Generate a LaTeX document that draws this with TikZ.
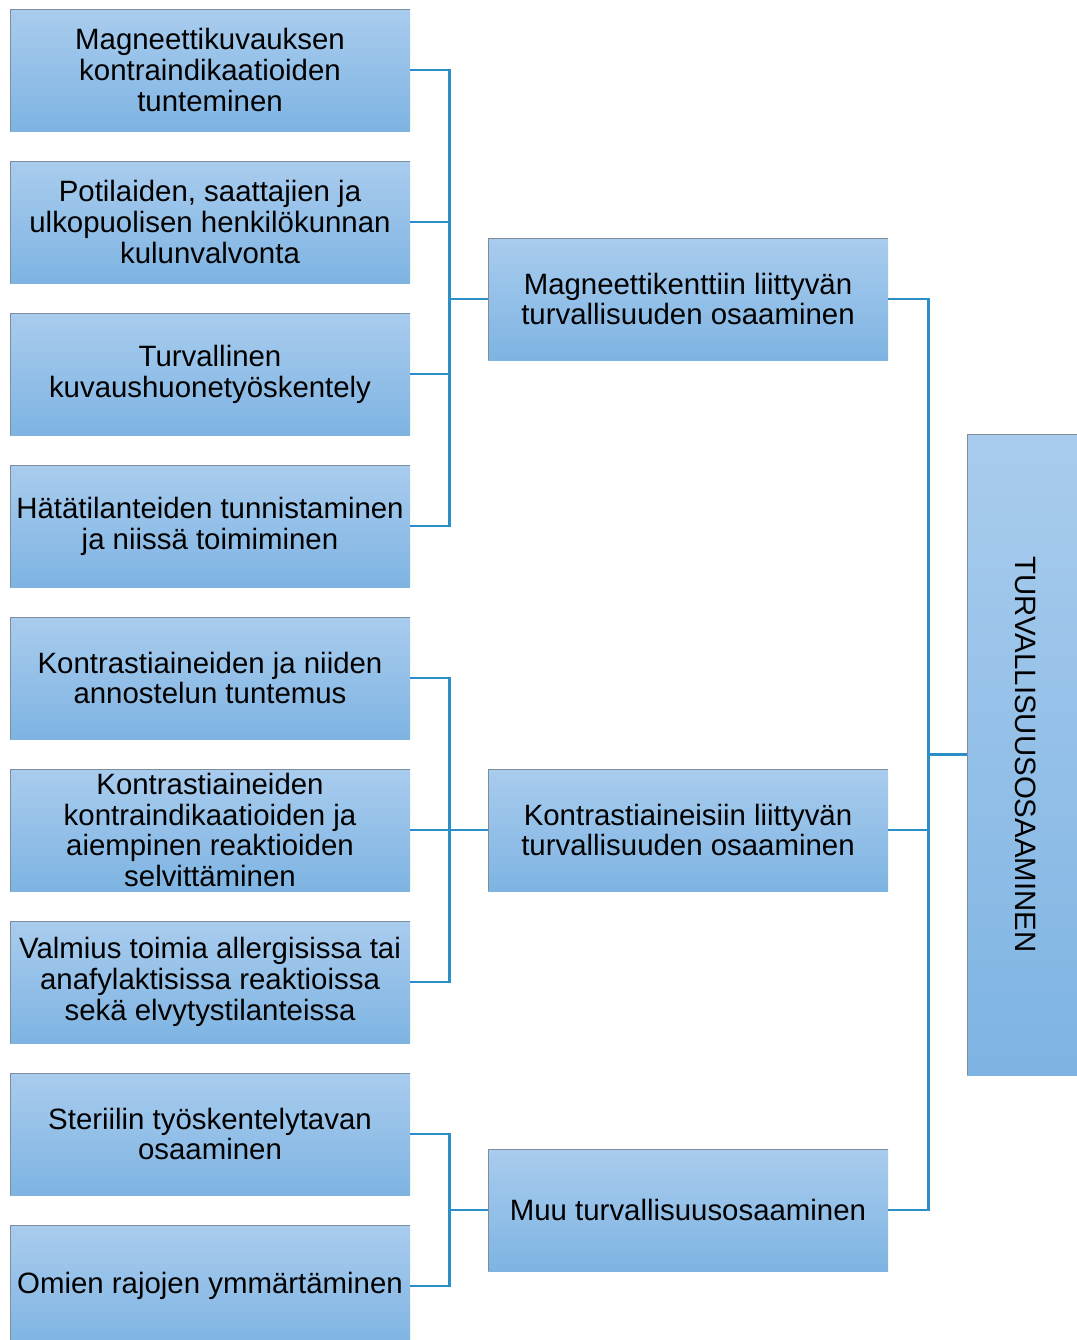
\documentclass[tikz,border=0pt]{standalone}
\usepackage{fontspec}
\setmainfont{Liberation Sans}
\usepackage{tikz}
\usetikzlibrary{calc}

\definecolor{boxtop}{HTML}{A9CCEE}
\definecolor{boxbottom}{HTML}{7EB4E2}
\definecolor{boxedge}{HTML}{7F8D9B}
\definecolor{linkblue}{HTML}{2A8FC7}

\tikzset{
  box/.style={top color=boxtop, bottom color=boxbottom, draw=none,
    minimum width=200pt, minimum height=61pt, inner sep=0pt, align=center,
    font=\fontsize{14.7}{15.4}\selectfont,
    path picture={\draw[boxedge,line width=1.4pt]
      (path picture bounding box.south west) |- (path picture bounding box.north east);}},
  link/.style={draw=linkblue, line width=1.2pt}
}

\begin{document}
\begin{tikzpicture}[x=0.5pt,y=-0.5pt]
              \useasboundingbox (0,0) rectangle (1077,1340);
              % left column
              \node[box] (L1) at (210,70) {Magneettikuvauksen\\kontraindikaatioiden\\tunteminen};
              \node[box] (L2) at (210,222) {Potilaiden, saattajien ja\\ulkopuolisen henkilökunnan\\kulunvalvonta};
              \node[box] (L3) at (210,374) {Turvallinen\\kuvaushuonetyöskentely};
              \node[box] (L4) at (210,526) {Hätätilanteiden tunnistaminen\\ja niissä toimiminen};
              \node[box] (L5) at (210,678) {Kontrastiaineiden ja niiden\\annostelun tuntemus};
              \node[box] (L6) at (210,830) {Kontrastiaineiden\\kontraindikaatioiden ja\\aiempinen reaktioiden\\selvittäminen};
              \node[box] (L7) at (210,982) {Valmius toimia allergisissa tai\\anafylaktisissa reaktioissa\\sekä elvytystilanteissa};
              \node[box] (L8) at (210,1134) {Steriilin työskentelytavan\\osaaminen};
              \node[box] (L9) at (210,1286) {Omien rajojen ymmärtäminen};
              % middle column
              \node[box] (M1) at (688,299) {Magneettikenttiin liittyvän\\turvallisuuden osaaminen};
              \node[box] (M2) at (688,830) {Kontrastiaineisiin liittyvän\\turvallisuuden osaaminen};
              \node[box] (M3) at (688,1210) {Muu turvallisuusosaaminen};
              % right
              \node[box, minimum width=59pt, minimum height=320.5pt] (T) at (1026,754.5) {};
              \node[rotate=-90, font=\fontsize{14.7}{15.4}\selectfont] (Tlabel) at (T.center) {TURVALLISUUSOSAAMINEN};
              % connectors
              \foreach \i in {1,2,3,4}
                \draw[link] (L\i.east) -- ++(39,0) |- (M1.west);
              \foreach \i in {5,6,7}
                \draw[link] (L\i.east) -- ++(39,0) |- (M2.west);
              \foreach \i in {8,9}
                \draw[link] (L\i.east) -- ++(39,0) |- (M3.west);
              \foreach \i in {1,2,3}
                \draw[link] (M\i.east) -- ++(40,0) |- (T.west);
            \end{tikzpicture}
\end{document}
